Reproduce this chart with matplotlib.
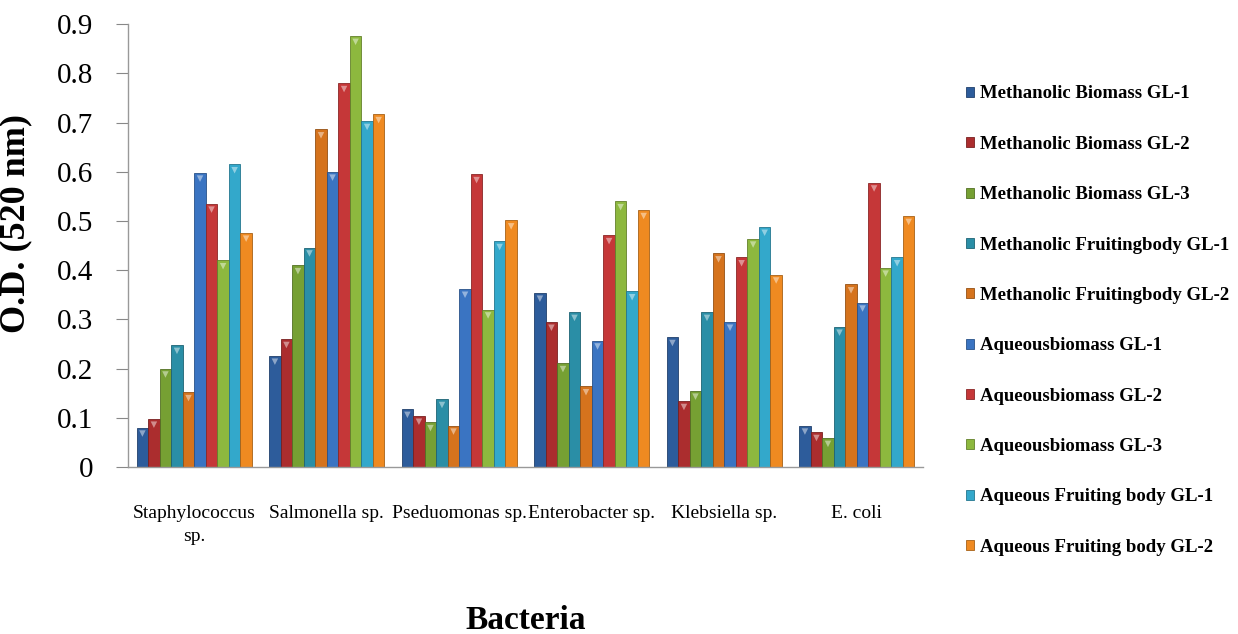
import matplotlib
matplotlib.use('Agg')
import matplotlib.pyplot as plt
import numpy as np
from matplotlib.colors import to_rgb

# Bacteria on the x axis
bacteria = ['Staphylococcus\nsp.', 'Salmonella sp.', 'Pseduomonas sp.',
            'Enterobacter sp.', 'Klebsiella sp.', 'E. coli']

series_names = ['Methanolic Biomass GL-1', 'Methanolic Biomass GL-2', 'Methanolic Biomass GL-3',
                'Methanolic Fruitingbody GL-1', 'Methanolic Fruitingbody GL-2',
                'Aqueousbiomass GL-1', 'Aqueousbiomass GL-2', 'Aqueousbiomass GL-3',
                'Aqueous Fruiting body GL-1', 'Aqueous Fruiting body GL-2']

# O.D. values, one list per extract
meth_bio_1 = [0.080, 0.226, 0.118, 0.354, 0.264, 0.084]
meth_bio_2 = [0.098, 0.260, 0.104, 0.295, 0.134, 0.071]
meth_bio_3 = [0.200, 0.410, 0.091, 0.211, 0.155, 0.059]
meth_fru_1 = [0.248, 0.446, 0.138, 0.315, 0.315, 0.285]
meth_fru_2 = [0.152, 0.686, 0.084, 0.164, 0.434, 0.371]
aq_bio_1 = [0.598, 0.600, 0.362, 0.257, 0.295, 0.334]
aq_bio_2 = [0.535, 0.780, 0.595, 0.471, 0.426, 0.578]
aq_bio_3 = [0.420, 0.876, 0.320, 0.540, 0.464, 0.405]
aq_fru_1 = [0.615, 0.703, 0.459, 0.357, 0.488, 0.426]
aq_fru_2 = [0.476, 0.717, 0.501, 0.522, 0.391, 0.510]

series = [meth_bio_1, meth_bio_2, meth_bio_3, meth_fru_1, meth_fru_2,
          aq_bio_1, aq_bio_2, aq_bio_3, aq_fru_1, aq_fru_2]

colors = ['#2d5c9b', '#ab2d2e', '#76a033', '#2a8ea6', '#d5731d',
          '#3a74c2', '#c53738', '#8db83e', '#33a8cb', '#ef8a21']

serif = ['Liberation Serif', 'DejaVu Serif']

fig = plt.figure(figsize=(12.38, 6.34), dpi=100)
ax = fig.add_axes([0.1034, 0.2634, 0.6422, 0.6986])

x = np.arange(len(bacteria))
w = 0.087
handles = []
for i, (vals, col) in enumerate(zip(series, colors)):
    pos = x + (i - 4.5) * w
    rgb = np.array(to_rgb(col))
    edge = tuple(rgb * 0.7)
    light = tuple(rgb + (1 - rgb) * 0.45)
    b = ax.bar(pos, vals, width=w, color=col, edgecolor=edge, linewidth=0.6,
               label=series_names[i], zorder=2)
    handles.append(b)
    # small lighter triangle on top of each bar (3D style cap)
    ax.scatter(pos, np.array(vals) - 0.012, marker='v', s=22, color=light,
               edgecolors='none', zorder=3)

ax.set_xlim(-0.5, len(bacteria) - 0.5)
ax.set_ylim(0, 0.9)
ax.set_yticks(np.arange(0, 0.91, 0.1))
ax.set_yticklabels(['0'] + [f'{v:.1f}' for v in np.arange(0.1, 0.91, 0.1)],
                   fontsize=21, family=serif)
ax.set_xticks(x)
ax.set_xticklabels(bacteria, fontsize=14, family=serif, linespacing=1.5)
ax.tick_params(axis='x', length=0, pad=27)
ax.tick_params(axis='y', length=9, width=0.8, color='#888888', pad=16)

for s in ['top', 'right']:
    ax.spines[s].set_visible(False)
for s in ['left', 'bottom']:
    ax.spines[s].set_color('#999999')
    ax.spines[s].set_linewidth(1.0)

ax.set_ylabel('O.D. (520 nm)', fontsize=26, fontweight='bold', family=serif)
ax.yaxis.set_label_coords(-0.12, 0.549)
fig.text(0.425, 0.008, 'Bacteria', fontsize=24, fontweight='bold', family=serif,
         ha='center', va='baseline')

fig.legend(handles=handles, loc='upper left', bbox_to_anchor=(0.774, 0.877),
           frameon=False, prop={'family': serif, 'weight': 'bold', 'size': 13.5},
           handlelength=0.45, handleheight=0.45, handletextpad=0.3,
           labelspacing=1.78, borderaxespad=0)

plt.savefig('out.png', dpi=100)
plt.close()
